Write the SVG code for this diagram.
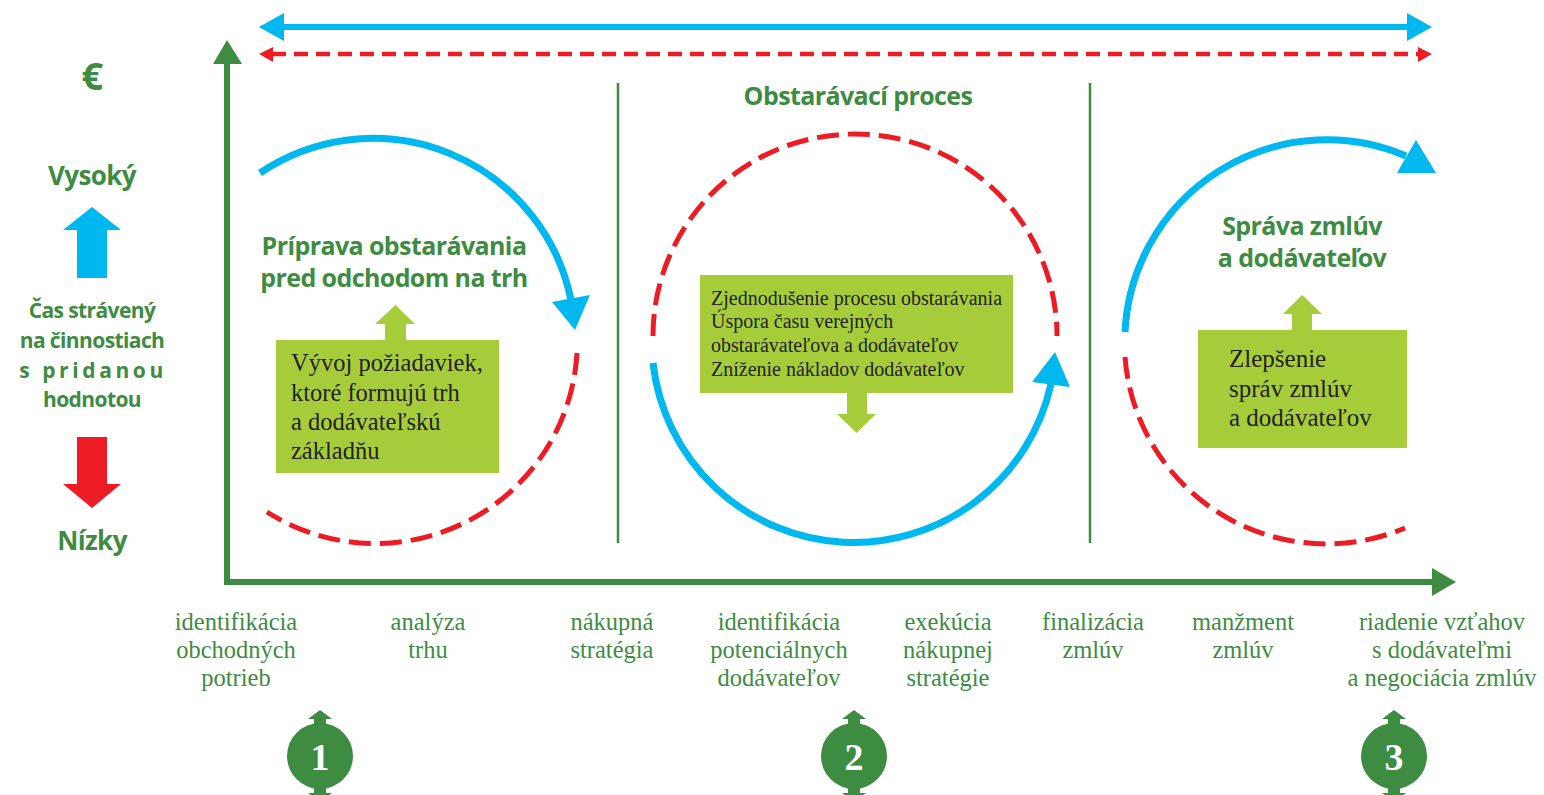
<svg xmlns="http://www.w3.org/2000/svg" width="1544" height="795" viewBox="0 0 1544 795">
<style>
.g{fill:#3d8c42}
.hd{font-family:"Open Sans",Lato,"Liberation Sans",sans-serif;font-weight:700;fill:#3d8c42;text-anchor:middle;letter-spacing:-0.6px}
.sp{letter-spacing:3.6px}
.lbl{font-family:"Liberation Serif","Times New Roman",serif;font-size:24.5px;fill:#3d8c42;text-anchor:middle}
.bx{fill:#a6cd39}
.bt{font-family:"Liberation Serif","Times New Roman",serif;fill:#231f20}
.blue{fill:none;stroke:#00b8f0;stroke-width:7}
.red{fill:none;stroke:#ed1c24;stroke-width:5;stroke-dasharray:22 9}
.bluef{fill:#00b8f0}
.redf{fill:#ed1c24}
.num{font-family:"Liberation Serif","Times New Roman",serif;font-weight:700;font-size:38px;fill:#ffffff;text-anchor:middle}
</style>
<rect width="1544" height="795" fill="#ffffff"/>

<g id="top-arrows">
  <line x1="282" y1="27" x2="1409" y2="27" stroke="#00b8f0" stroke-width="6"/>
  <polygon class="bluef" points="259,27 284,13 284,41"/>
  <polygon class="bluef" points="1432,27 1407,13 1407,41"/>
  <line x1="272" y1="54" x2="1420" y2="54" stroke="#ed1c24" stroke-width="4.5" stroke-dasharray="14 8"/>
  <polygon class="redf" points="259,54 273,47 273,62"/>
  <polygon class="redf" points="1432,54 1418,47 1418,62"/>
</g>

<g id="axes">
  <line x1="227" y1="62" x2="227" y2="585" stroke="#3d8c42" stroke-width="6"/>
  <polygon class="g" points="227,40 213,64 242,64"/>
  <line x1="224" y1="582" x2="1436" y2="582" stroke="#3d8c42" stroke-width="6"/>
  <polygon class="g" points="1456,582 1432,568 1432,596"/>
  <line x1="618" y1="83" x2="618" y2="543" stroke="#3d8c42" stroke-width="2.5"/>
  <line x1="1090" y1="83" x2="1090" y2="543" stroke="#3d8c42" stroke-width="2.5"/>
</g>

<g id="legend">
  <text class="hd" x="92" y="90" font-size="38">€</text>
  <text class="hd" x="92" y="185" font-size="26">Vysoký</text>
  <polygon class="bluef" points="63,230 92,207 121,230 107,230 107,278 77,278 77,230"/>
  <text class="hd" x="92" y="318" font-size="21">Čas strávený</text>
  <text class="hd" x="92" y="348" font-size="21">na činnostiach</text>
  <text class="hd sp" x="93" y="378" font-size="21">s pridanou</text>
  <text class="hd" x="92" y="407" font-size="21">hodnotou</text>
  <polygon class="redf" points="77,437 107,437 107,484 121,484 92,508 63,484 77,484"/>
  <text class="hd" x="92" y="550" font-size="26">Nízky</text>
</g>

<g id="connectors">
  <path class="blue" d="M260,173 A202,202 0 0 1 571,300"/>
  <polygon class="bluef" points="552,302 590,295 575,330"/>
  <path class="red" d="M577,353 A202,202 0 0 1 267,512"/>

  <path class="red" d="M653,336 A202,202 0 0 1 1057,336"/>
  <path class="blue" d="M653,363 A202,202 0 0 0 1051,384"/>
  <polygon class="bluef" points="1032,382 1070,387 1055,352"/>

  <path class="blue" d="M1125,332 A202,202 0 0 1 1406,156"/>
  <polygon class="bluef" points="1416,140 1397,173 1436,173"/>
  <path class="red" d="M1125,357 A202,202 0 0 0 1405,528"/>
</g>

<g id="phase1">
  <text class="hd" x="394" y="255" font-size="25">Príprava obstarávania</text>
  <text class="hd" x="394" y="287" font-size="25">pred odchodom na trh</text>
  <polygon class="bx" points="385,341 385,324 375,324 395.5,305 415,324 406,324 406,341"/>
  <rect class="bx" x="276" y="340" width="223" height="133"/>
  <text class="bt" font-size="24.5"><tspan x="291" y="371">Vývoj požiadaviek,</tspan><tspan x="291" y="401">ktoré formujú trh</tspan><tspan x="291" y="430">a dodávateľskú</tspan><tspan x="291" y="459">základňu</tspan></text>
</g>

<g id="phase2">
  <text class="hd" x="858" y="105" font-size="25">Obstarávací proces</text>
  <rect class="bx" x="700" y="275" width="313" height="118"/>
  <polygon class="bx" points="847,392 847,414 837,414 856.5,433 876,414 867,414 867,392"/>
  <text class="bt" font-size="20"><tspan x="711" y="305">Zjednodušenie procesu obstarávania</tspan><tspan x="711" y="328">Úspora času verejných</tspan><tspan x="711" y="352">obstarávateľova a dodávateľov</tspan><tspan x="711" y="376">Zníženie nákladov dodávateľov</tspan></text>
</g>

<g id="phase3">
  <text class="hd" x="1302" y="235" font-size="25">Správa zmlúv</text>
  <text class="hd" x="1302" y="267" font-size="25">a dodávateľov</text>
  <polygon class="bx" points="1292,331 1292,314 1283,314 1302,295 1322,314 1312,314 1312,331"/>
  <rect class="bx" x="1198" y="330" width="209" height="118"/>
  <text class="bt" font-size="25"><tspan x="1229" y="367">Zlepšenie</tspan><tspan x="1229" y="397">správ zmlúv</tspan><tspan x="1229" y="426">a dodávateľov</tspan></text>
</g>

<g id="steps">
  <text class="lbl"><tspan x="236" y="630">identifikácia</tspan><tspan x="236" y="658">obchodných</tspan><tspan x="236" y="686">potrieb</tspan></text>
  <text class="lbl"><tspan x="428" y="630">analýza</tspan><tspan x="428" y="658">trhu</tspan></text>
  <text class="lbl"><tspan x="612" y="630">nákupná</tspan><tspan x="612" y="658">stratégia</tspan></text>
  <text class="lbl"><tspan x="779" y="630">identifikácia</tspan><tspan x="779" y="658">potenciálnych</tspan><tspan x="779" y="686">dodávateľov</tspan></text>
  <text class="lbl"><tspan x="948" y="630">exekúcia</tspan><tspan x="948" y="658">nákupnej</tspan><tspan x="948" y="686">stratégie</tspan></text>
  <text class="lbl"><tspan x="1093" y="630">finalizácia</tspan><tspan x="1093" y="658">zmlúv</tspan></text>
  <text class="lbl"><tspan x="1243" y="630">manžment</tspan><tspan x="1243" y="658">zmlúv</tspan></text>
  <text class="lbl"><tspan x="1442" y="630">riadenie vzťahov</tspan><tspan x="1442" y="658">s dodávateľmi</tspan><tspan x="1442" y="686">a negociácia zmlúv</tspan></text>
</g>

<g id="badge1">
  <path class="g" d="M320,710 L332,719 L326,719 L326,728 L314,728 L314,719 L308,719 Z"/>
  <path class="g" d="M320,802 L332,793 L326,793 L326,784 L314,784 L314,793 L308,793 Z"/>
  <circle class="g" cx="320" cy="756" r="33"/>
  <text class="num" x="320" y="770">1</text>
</g>
<g id="badge2">
  <path class="g" d="M854,710 L866,719 L860,719 L860,728 L848,728 L848,719 L842,719 Z"/>
  <path class="g" d="M854,802 L866,793 L860,793 L860,784 L848,784 L848,793 L842,793 Z"/>
  <circle class="g" cx="854" cy="756" r="33"/>
  <text class="num" x="854" y="770">2</text>
</g>
<g id="badge3">
  <path class="g" d="M1394,710 L1406,719 L1400,719 L1400,728 L1388,728 L1388,719 L1382,719 Z"/>
  <path class="g" d="M1394,802 L1406,793 L1400,793 L1400,784 L1388,784 L1388,793 L1382,793 Z"/>
  <circle class="g" cx="1394" cy="756" r="33"/>
  <text class="num" x="1394" y="770">3</text>
</g>
</svg>
